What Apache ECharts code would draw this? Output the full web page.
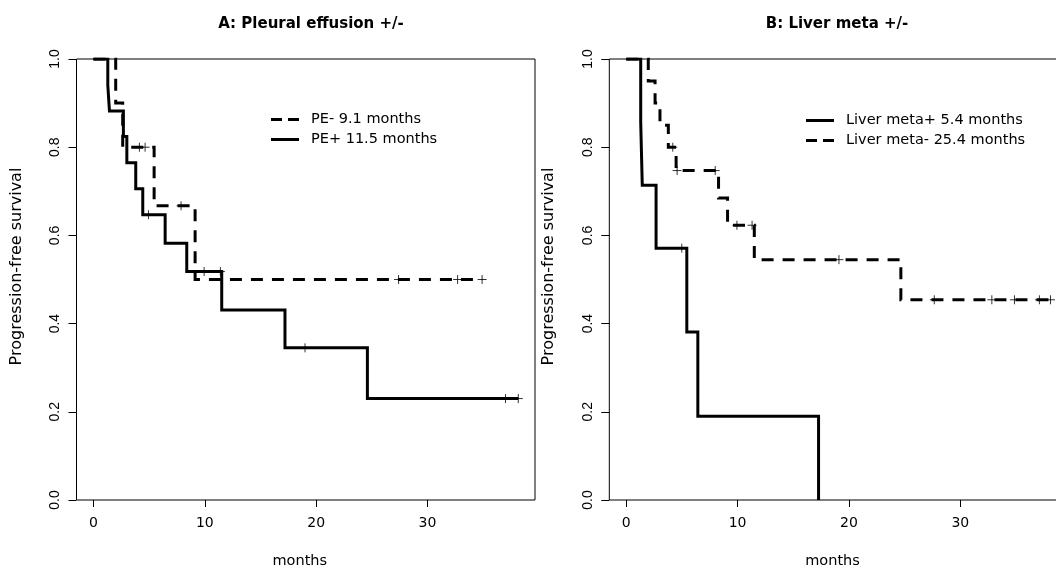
<!DOCTYPE html>
<html>
<head>
<meta charset="utf-8">
<script src="https://cdn.jsdelivr.net/npm/echarts@6/dist/echarts.min.js"></script>
<style>html,body{margin:0;padding:0;background:#fff}#c{width:1056px;height:568px}</style>
</head>
<body>
<div id="c"></div>
<script>
// Panel A: Pleural effusion
const peMinusTimes = [0, 2.0, 2.63, 5.45, 9.13, 34.9];
const peMinusSurv  = [1, 0.9, 0.8, 0.667, 0.5, 0.5];
const peMinusCensT = [4.13, 4.64, 7.87, 27.4, 32.7, 34.9];
const peMinusCensS = [0.8, 0.8, 0.667, 0.5, 0.5, 0.5];

const pePlusTimes = [0, 1.29, 1.44, 2.69, 3.0, 3.8, 4.43, 6.44, 8.38, 11.52, 17.2, 24.6, 38.15];
const pePlusSurv  = [1, 0.941, 0.882, 0.824, 0.765, 0.706, 0.647, 0.582, 0.518, 0.431, 0.345, 0.23, 0.23];
const pePlusCensT = [4.94, 9.94, 11.4, 19.0, 37.0, 38.15];
const pePlusCensS = [0.647, 0.518, 0.518, 0.345, 0.23, 0.23];

// Panel B: Liver metastasis
const lmPlusTimes = [0, 1.3, 1.44, 2.68, 5.44, 6.43, 17.27];
const lmPlusSurv  = [1, 0.857, 0.714, 0.571, 0.381, 0.19, 0];
const lmPlusCensT = [4.99];
const lmPlusCensS = [0.571];

const lmMinusTimes = [0, 1.98, 2.59, 3.03, 3.78, 4.48, 8.29, 9.1, 11.5, 24.66, 38.1];
const lmMinusSurv  = [1, 0.95, 0.9, 0.85, 0.8, 0.747, 0.685, 0.623, 0.545, 0.454, 0.454];
const lmMinusCensT = [4.18, 4.57, 7.99, 9.94, 11.3, 19.1, 27.66, 32.83, 34.86, 37.1, 38.1];
const lmMinusCensS = [0.8, 0.747, 0.747, 0.623, 0.623, 0.545, 0.454, 0.454, 0.454, 0.454, 0.454];

const titles = ['A: Pleural effusion +/-', 'B: Liver meta +/-'];
const legendA = ['PE- 9.1 months', 'PE+ 11.5 months'];
const legendB = ['Liver meta+ 5.4 months', 'Liver meta- 25.4 months'];
const xTicks = [0, 10, 20, 30];

const zip = (a, b) => a.map((v, i) => [v, b[i]]);
const FONT = 'DejaVu Sans';
const plusPath = 'path://M5,0L5,10M0,5L10,5';
const solidIcon = 'path://M0,0L28,0L28,3L0,3Z';
const dashIcon = 'path://M0,0L11,0L11,3L0,3ZM17,0L28,0L28,3L17,3Z';

function xAxisFor(i) {
  return {
    gridIndex: i, type: 'value', min: -1.52, max: 39.65,
    name: 'months', nameLocation: 'middle', nameGap: 54, nameMoveOverlap: false,
    nameTextStyle: {fontFamily: FONT, fontSize: 14.5, color: '#000', padding: [0, 12, 0, 0]},
    axisLine: {show: false, onZero: false},
    axisTick: {show: true, length: 7, lineStyle: {color: '#000'}, customValues: xTicks},
    axisLabel: {fontFamily: FONT, fontSize: 14, color: '#000', margin: 16, customValues: xTicks},
    splitLine: {show: false}
  };
}
function yAxisFor(i) {
  return {
    gridIndex: i, type: 'value', min: 0, max: 1, interval: 0.2,
    name: 'Progression-free survival', nameLocation: 'middle', nameGap: 52, nameMoveOverlap: false,
    nameTextStyle: {fontFamily: FONT, fontSize: 16, color: '#000', padding: [0, 0, 0, 26]},
    axisLine: {show: false, onZero: false},
    axisTick: {show: true, length: 8, lineStyle: {color: '#000'}},
    axisLabel: {fontFamily: 'Liberation Sans', fontSize: 14, color: '#000', rotate: 90, margin: 14,
      formatter: v => v.toFixed(1)},
    splitLine: {show: false}
  };
}
function stepSeries(name, i, t, s, dashed) {
  return {
    name, type: 'line', step: 'end', xAxisIndex: i, yAxisIndex: i,
    data: zip(t, s), symbol: 'none', silent: true,
    lineStyle: {color: '#000', width: 3, type: dashed ? [12, 9] : 'solid', cap: 'butt', join: 'miter'},
    itemStyle: {color: '#000'}
  };
}
function censSeries(name, i, t, s) {
  return {
    name, type: 'scatter', xAxisIndex: i, yAxisIndex: i,
    data: zip(t, s), symbol: plusPath, symbolSize: 9, silent: true,
    itemStyle: {color: 'rgba(0,0,0,0)', borderColor: '#000', borderWidth: 1}
  };
}
function legendFor(names, icons, left, top) {
  return {
    data: names.map((n, k) => ({name: n, icon: icons[k]})),
    orient: 'vertical', left, top, padding: 0, itemWidth: 28, itemHeight: 14, itemGap: 5,
    itemStyle: {color: '#000', borderWidth: 0},
    textStyle: {fontFamily: FONT, fontSize: 14.5, color: '#000', padding: [0, 0, 0, 7]}, selectedMode: false
  };
}

const chart = echarts.init(document.getElementById('c'), null, {renderer: 'canvas'});
chart.setOption({
  animation: false,
  backgroundColor: '#fff',
  title: [
    {text: titles[0], left: 306, top: 12, textAlign: 'center',
     textStyle: {fontFamily: FONT, fontSize: 15, fontWeight: 'bold', color: '#000'}},
    {text: titles[1], left: 832, top: 12, textAlign: 'center',
     textStyle: {fontFamily: FONT, fontSize: 15, fontWeight: 'bold', color: '#000'}}
  ],
  grid: [
    {left: 76.5, top: 59, width: 458.5, height: 441, show: true, borderColor: '#000', borderWidth: 1,
     backgroundColor: 'transparent', outerBoundsMode: 'none', containLabel: false},
    {left: 609.3, top: 59, width: 458.5, height: 441, show: true, borderColor: '#000', borderWidth: 1,
     backgroundColor: 'transparent', outerBoundsMode: 'none', containLabel: false}
  ],
  xAxis: [xAxisFor(0), xAxisFor(1)],
  yAxis: [yAxisFor(0), yAxisFor(1)],
  legend: [
    legendFor(legendA, [dashIcon, solidIcon], 271, 112),
    legendFor(legendB, [solidIcon, dashIcon], 806, 113)
  ],
  series: [
    stepSeries(legendA[0], 0, peMinusTimes, peMinusSurv, true),
    stepSeries(legendA[1], 0, pePlusTimes, pePlusSurv, false),
    censSeries('censA-', 0, peMinusCensT, peMinusCensS),
    censSeries('censA+', 0, pePlusCensT, pePlusCensS),
    stepSeries(legendB[0], 1, lmPlusTimes, lmPlusSurv, false),
    stepSeries(legendB[1], 1, lmMinusTimes, lmMinusSurv, true),
    censSeries('censB+', 1, lmPlusCensT, lmPlusCensS),
    censSeries('censB-', 1, lmMinusCensT, lmMinusCensS)
  ]
});
</script>
</body>
</html>
